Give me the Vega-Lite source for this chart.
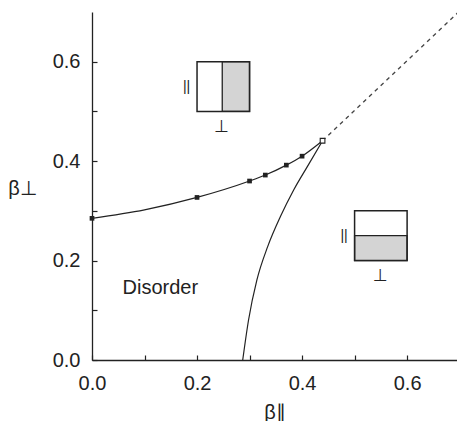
{
  "$schema": "https://vega.github.io/schema/vega-lite/v6.json",
  "width": 365,
  "height": 348,
  "autosize": "none",
  "padding": {"left": 92, "top": 12, "right": 0, "bottom": 61},
  "config": {
    "view": {"stroke": null},
    "font": "Liberation Sans",
    "axis": {"grid": false, "domainColor": "#222", "tickColor": "#222", "labelColor": "#222", "titleColor": "#222", "labelFont": "Liberation Sans", "titleFont": "Liberation Sans", "labelFontSize": 20, "titleFontWeight": "normal", "titleFontSize": 20, "domainWidth": 1.3, "tickWidth": 1.2, "labelFlush": false}
  },
  "datasets": {
    "upper": [
      {"bx": 0.0, "by": 0.285},
      {"bx": 0.1, "by": 0.302},
      {"bx": 0.2, "by": 0.327},
      {"bx": 0.3, "by": 0.36},
      {"bx": 0.33, "by": 0.372},
      {"bx": 0.37, "by": 0.392},
      {"bx": 0.4, "by": 0.41},
      {"bx": 0.439, "by": 0.441}
    ],
    "lower": [
      {"bx": 0.287, "by": 0.0},
      {"bx": 0.298, "by": 0.08},
      {"bx": 0.314, "by": 0.161},
      {"bx": 0.3345, "by": 0.228},
      {"bx": 0.359, "by": 0.289},
      {"bx": 0.384, "by": 0.342},
      {"bx": 0.41, "by": 0.389},
      {"bx": 0.439, "by": 0.441}
    ],
    "markers": [
      {"bx": 0.0, "by": 0.285},
      {"bx": 0.2, "by": 0.327},
      {"bx": 0.3, "by": 0.36},
      {"bx": 0.33, "by": 0.372},
      {"bx": 0.37, "by": 0.392},
      {"bx": 0.4, "by": 0.41}
    ],
    "crit": [{"bx": 0.439, "by": 0.441}],
    "dashed": [
      {"bx": 0.439, "by": 0.441},
      {"bx": 0.7, "by": 0.702}
    ],
    "shade": [
      {"x1": 0.248, "x2": 0.3, "y1": 0.5, "y2": 0.6},
      {"x1": 0.5, "x2": 0.6, "y1": 0.2, "y2": 0.25}
    ],
    "boxes": [
      {"x1": 0.2, "x2": 0.3, "y1": 0.5, "y2": 0.6},
      {"x1": 0.5, "x2": 0.6, "y1": 0.2, "y2": 0.3}
    ],
    "pars": [
      {"bx": 0.18, "by": 0.55, "t": "||"},
      {"bx": 0.48, "by": 0.249, "t": "||"}
    ],
    "perps": [
      {"bx": 0.247, "by": 0.468, "t": "⊥"},
      {"bx": 0.549, "by": 0.168, "t": "⊥"}
    ],
    "labels": [{"bx": 0.13, "by": 0.145, "t": "Disorder"}]
  },
  "layer": [
    {
      "data": {"name": "shade"},
      "mark": {"type": "rect", "fill": "#d4d4d4", "stroke": "#222", "strokeWidth": 1.3},
      "encoding": {
        "x": {"field": "x1", "type": "quantitative", "scale": {"domain": [0, 0.695], "nice": false, "zero": false},
          "axis": {"values": [0, 0.1, 0.2, 0.3, 0.4, 0.5, 0.6], "labelExpr": "round(datum.value*10)%2==0 ? format(datum.value,'.1f') : ''", "tickSize": -5, "labelPadding": 18, "title": "β∥", "titleY": 52, "titleBaseline": "middle"}},
        "x2": {"field": "x2"},
        "y": {"field": "y1", "type": "quantitative", "scale": {"domain": [0, 0.7], "nice": false, "zero": false},
          "axis": {"values": [0, 0.1, 0.2, 0.3, 0.4, 0.5, 0.6], "labelExpr": "round(datum.value*10)%2==0 ? format(datum.value,'.1f') : ''", "tickSize": -5, "labelPadding": 17, "title": "β⊥", "titleAngle": 0, "titleX": -70, "titleY": 176, "titleAlign": "center", "titleBaseline": "middle"}},
        "y2": {"field": "y2"}
      }
    },
    {
      "data": {"name": "boxes"},
      "mark": {"type": "rect", "fill": null, "fillOpacity": 0, "stroke": "#222", "strokeWidth": 1.5},
      "encoding": {
        "x": {"field": "x1", "type": "quantitative"},
        "x2": {"field": "x2"},
        "y": {"field": "y1", "type": "quantitative"},
        "y2": {"field": "y2"}
      }
    },
    {
      "data": {"name": "upper"},
      "mark": {"type": "line", "interpolate": "monotone", "color": "#222", "strokeWidth": 1.2},
      "encoding": {
        "x": {"field": "bx", "type": "quantitative"},
        "y": {"field": "by", "type": "quantitative"}
      }
    },
    {
      "data": {"name": "lower"},
      "mark": {"type": "line", "interpolate": "monotone", "color": "#222", "strokeWidth": 1.2},
      "encoding": {
        "x": {"field": "bx", "type": "quantitative"},
        "y": {"field": "by", "type": "quantitative"}
      }
    },
    {
      "data": {"name": "dashed"},
      "mark": {"type": "line", "color": "#444", "strokeWidth": 1.3, "strokeDash": [4, 4], "clip": true},
      "encoding": {
        "x": {"field": "bx", "type": "quantitative"},
        "y": {"field": "by", "type": "quantitative"}
      }
    },
    {
      "data": {"name": "markers"},
      "mark": {"type": "point", "shape": "square", "filled": true, "color": "#222", "size": 22, "opacity": 1},
      "encoding": {
        "x": {"field": "bx", "type": "quantitative"},
        "y": {"field": "by", "type": "quantitative"}
      }
    },
    {
      "data": {"name": "crit"},
      "mark": {"type": "point", "shape": "square", "filled": false, "fill": "white", "fillOpacity": 1, "stroke": "#222", "strokeWidth": 1.1, "size": 22, "opacity": 1},
      "encoding": {
        "x": {"field": "bx", "type": "quantitative"},
        "y": {"field": "by", "type": "quantitative"}
      }
    },
    {
      "data": {"name": "pars"},
      "mark": {"type": "text", "font": "Liberation Sans", "fontSize": 14, "color": "#222", "baseline": "middle", "align": "center"},
      "encoding": {
        "x": {"field": "bx", "type": "quantitative"},
        "y": {"field": "by", "type": "quantitative"},
        "text": {"field": "t"}
      }
    },
    {
      "data": {"name": "perps"},
      "mark": {"type": "text", "font": "DejaVu Sans", "fontSize": 17, "color": "#222", "baseline": "middle", "align": "center"},
      "encoding": {
        "x": {"field": "bx", "type": "quantitative"},
        "y": {"field": "by", "type": "quantitative"},
        "text": {"field": "t"}
      }
    },
    {
      "data": {"name": "labels"},
      "mark": {"type": "text", "font": "Liberation Sans", "fontSize": 20, "color": "#222", "baseline": "middle", "align": "center"},
      "encoding": {
        "x": {"field": "bx", "type": "quantitative"},
        "y": {"field": "by", "type": "quantitative"},
        "text": {"field": "t"}
      }
    }
  ]
}
